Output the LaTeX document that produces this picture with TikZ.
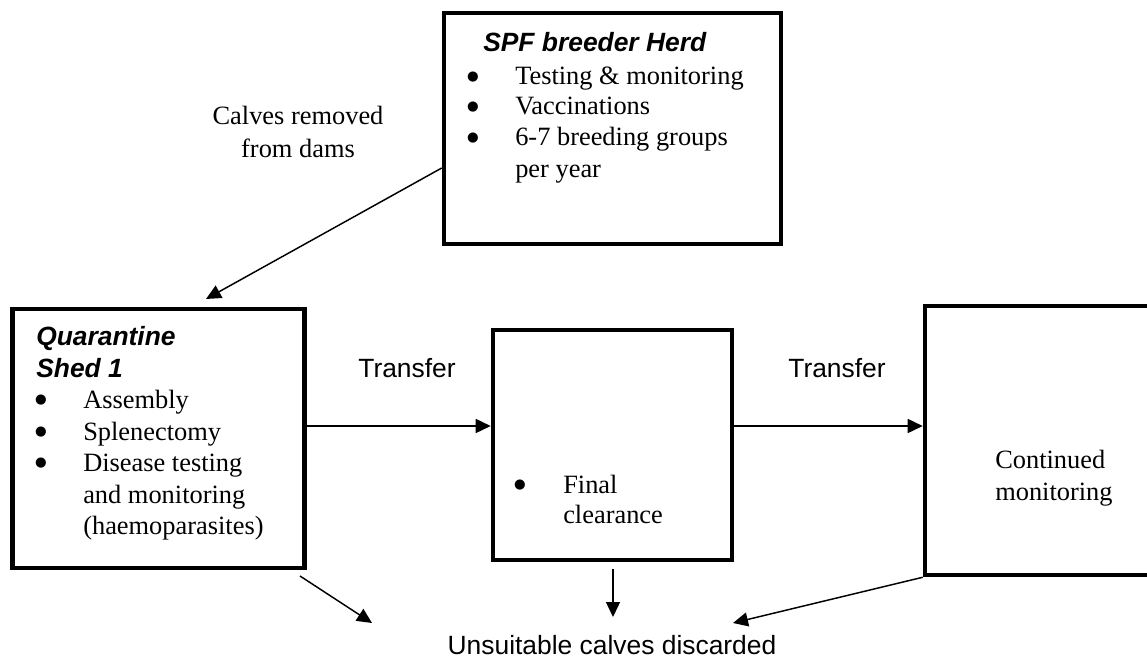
\documentclass[tikz,border=0pt]{standalone}
\usepackage{fontspec}
\setmainfont{Liberation Serif}
\newfontfamily\arialfont{Liberation Sans}
\newfontfamily\dejafont{DejaVu Sans}
\usetikzlibrary{arrows.meta}
\begin{document}
\begin{tikzpicture}[x=0.75pt,y=-0.75pt,
  boxnode/.style={draw, line width=3.4pt, rectangle, inner sep=0pt},
  arr/.style={-{Triangle[length=11.25pt,width=10.5pt]}, line width=1.1pt},
  tx/.style={anchor=base west, inner sep=0pt, font=\fontsize{19.8}{23}\selectfont},
  bul/.style={anchor=center, inner sep=0pt, font=\dejafont\fontsize{10}{10}\selectfont},
  sx/.style={anchor=base, inner sep=0pt, font=\arialfont\fontsize{19.8}{23}\selectfont},
  cx/.style={anchor=base, inner sep=0pt, font=\fontsize{19.8}{23}\selectfont},
  hd/.style={anchor=base west, inner sep=0pt, font=\arialfont\bfseries\itshape\fontsize{19.8}{23}\selectfont}]
\clip (0,0) rectangle (1147,660);
\fill[white] (0,0) rectangle (1147,660);

% boxes
\node[boxnode, minimum width=252.75pt, minimum height=173.25pt] (top) at (612.5,128.5) {};
\node[boxnode, minimum width=219pt, minimum height=194.25pt] (left) at (158.25,438.5) {};
\node[boxnode, minimum width=179.25pt, minimum height=172.5pt] (mid) at (612.5,445) {};
\node[boxnode, minimum width=206.25pt, minimum height=201.75pt] (right) at (1062.5,440.5) {};

% top box text
\node[hd] (h1) at (483,52) {SPF breeder Herd};
\node[bul] (b1) at (473,77) {●};
\node[tx] (t1) at (515,85) {Testing \& monitoring};
\node[bul] (b2) at (473,107) {●};
\node[tx] (t2) at (515,115) {Vaccinations};
\node[bul] (b3) at (473,138) {●};
\node[tx] (t3) at (515,146) {6-7 breeding groups};
\node[tx] (t4) at (515,177) {per year};

% left box text
\node[hd] (h2) at (36,345) {Quarantine};
\node[hd] (h3) at (36,377) {Shed 1};
\node[bul] (b4) at (41,400) {●};
\node[tx] (t5) at (83,408) {Assembly};
\node[bul] (b5) at (41,432) {●};
\node[tx] (t6) at (83,440) {Splenectomy};
\node[bul] (b6) at (41,463) {●};
\node[tx] (t7) at (83,471) {Disease testing};
\node[tx] (t8) at (83,503) {and monitoring};
\node[tx] (t9) at (83,534) {(haemoparasites)};

% middle box text
\node[bul] (b7) at (520,485) {●};
\node[tx] (t10) at (563,493) {Final};
\node[tx] (t11) at (563,523) {clearance};

% right box text
\node[tx] (t12) at (995,468) {Continued};
\node[tx] (t13) at (995,500) {monitoring};

% labels
\node[cx] (c1) at (298,125) {Calves removed};
\node[cx] (c2) at (298,157) {from dams};
\node[sx] (tr1) at (407,377) {Transfer};
\node[sx] (tr2) at (837,377) {Transfer};
\node[sx] (un) at (612,654) {Unsuitable calves discarded};

% connectors
\coordinate (ty) at (0,426);
\coordinate (p1) at (206,299);
\coordinate (p2) at (300,576);
\coordinate (p3) at (372,623);
\coordinate (p4) at (613,569);
\coordinate (p5) at (613,617);
\coordinate (p6) at (733,623);

\draw[arr] (top.west |- 0,168) -- (p1);
\draw[arr] (left.east |- ty) -- (mid.west |- ty);
\draw[arr] (mid.east |- ty) -- (right.west |- ty);
\draw[arr] (p2) -- (p3);
\draw[arr] (p4) -- (p5);
\draw[arr] (right.south west) -- (p6);
\end{tikzpicture}
\end{document}
